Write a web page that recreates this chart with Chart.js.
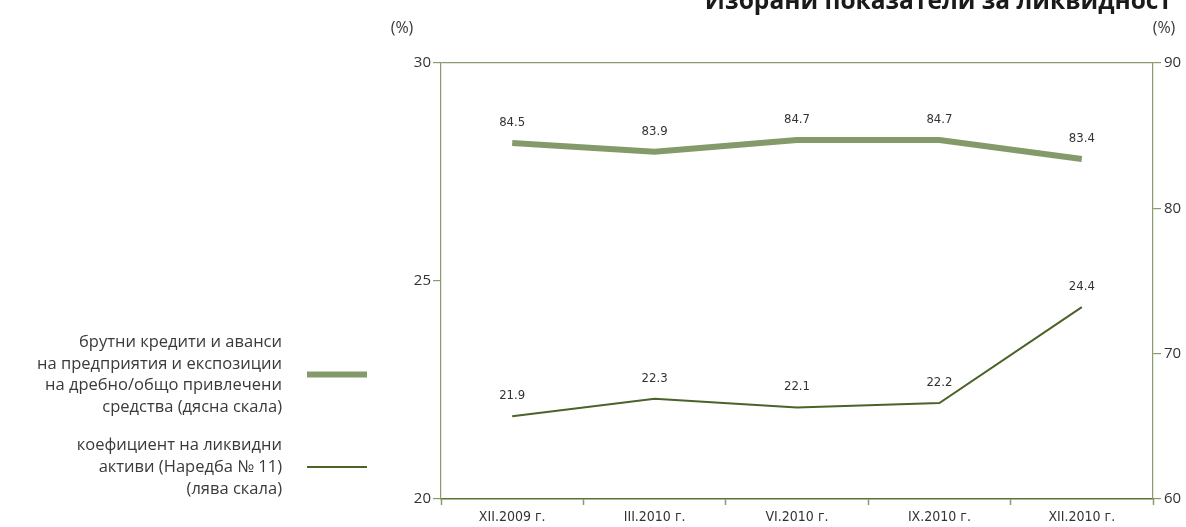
<!DOCTYPE html>
<html>
<head>
<meta charset="utf-8">
<script src="https://cdn.jsdelivr.net/npm/chart.js@4.4.0/dist/chart.umd.min.js"></script>
<style>
  html, body { margin: 0; padding: 0; background: #fff; }
  #wrap { width: 1186px; height: 527px; position: relative; }
</style>
</head>
<body>
<div id="wrap"><canvas id="liqChart" width="1186" height="527"></canvas></div>
<script>
// data
const categories = ['XII.2009 г.', 'III.2010 г.', 'VI.2010 г.', 'IX.2010 г.', 'XII.2010 г.'];
const loansToDeposits = [84.5, 83.9, 84.7, 84.7, 83.4];   // right scale
const liquidAssetsRatio = [21.9, 22.3, 22.1, 22.2, 24.4]; // left scale
const leftTicks = [20, 25, 30];
const rightTicks = [60, 70, 80, 90];

const titleText = 'Избрани показатели за ликвидност';
const legendItems = [
  { lines: ['брутни кредити и аванси', 'на предприятия и експозиции', 'на дребно/общо привлечени', 'средства (дясна скала)'], color: '#849a6b', width: 6 },
  { lines: ['коефициент на ликвидни', 'активи (Наредба № 11)', '(лява скала)'], color: '#4b6229', width: 2 }
];

const condensed = '"Liberation Sans Narrow", "DejaVu Sans Condensed", "Roboto", sans-serif';
const humanist = '"Open Sans", "Noto Sans", sans-serif';

// draws title, unit labels, legend and point values
const extrasPlugin = {
  id: 'extras',
  afterDraw(chart) {
    const ctx = chart.ctx;
    ctx.save();

    // title (cut at top like the reference)
    ctx.fillStyle = '#1a1a1a';
    ctx.font = 'bold 24.5px ' + humanist;
    ctx.textAlign = 'right';
    ctx.textBaseline = 'alphabetic';
    ctx.fillText(titleText, 1172, 9);

    // (%) units
    ctx.font = '16px ' + humanist;
    ctx.fillStyle = '#3a3a3a';
    ctx.textAlign = 'center';
    ctx.fillText('(%)', 402, 33);
    ctx.fillText('(%)', 1164, 33);

    // legend
    ctx.font = '16.5px ' + humanist;
    ctx.textAlign = 'right';
    let y = 347;
    legendItems.forEach((item, i) => {
      const startY = y;
      item.lines.forEach(line => {
        ctx.fillStyle = '#3a3a3a';
        ctx.fillText(line, 282, y);
        y += 21.6;
      });
      const midY = startY + (item.lines.length - 1) * 21.6 / 2 - 5;
      ctx.strokeStyle = item.color;
      ctx.lineWidth = item.width;
      ctx.beginPath();
      ctx.moveTo(307, midY);
      ctx.lineTo(367, midY);
      ctx.stroke();
      y += 17;
    });

    // values above points
    ctx.font = '13px ' + condensed;
    ctx.fillStyle = '#333';
    ctx.textAlign = 'center';
    chart.data.datasets.forEach((ds, di) => {
      const meta = chart.getDatasetMeta(di);
      meta.data.forEach((pt, i) => {
        ctx.fillText(ds.data[i].toFixed(1), pt.x, pt.y - 17);
      });
    });
    ctx.restore();
  }
};

new Chart(document.getElementById('liqChart'), {
  type: 'line',
  data: {
    labels: categories,
    datasets: [
      {
        label: 'брутни кредити и аванси',
        data: loansToDeposits,
        yAxisID: 'yRight',
        borderColor: '#849a6b',
        borderWidth: 6,
        pointRadius: 0,
        tension: 0,
        fill: false
      },
      {
        label: 'коефициент на ликвидни активи',
        data: liquidAssetsRatio,
        yAxisID: 'yLeft',
        borderColor: '#4b6229',
        borderWidth: 2,
        pointRadius: 0,
        tension: 0,
        fill: false
      }
    ]
  },
  options: {
    responsive: false,
    animation: false,
    layout: { padding: { left: 380, right: 0, top: 63, bottom: 0 } },
    plugins: {
      legend: { display: false },
      tooltip: { enabled: false }
    },
    scales: {
      x: {
        offset: true,
        grid: {
          offset: true,
          drawOnChartArea: false,
          tickLength: 6,
          tickColor: '#8a9c6e',
          tickWidth: 1.5
        },
        border: { color: '#5a7233', width: 1.5 },
        ticks: {
          color: '#333',
          font: { family: condensed, size: 14 },
          padding: 4,
          maxRotation: 0
        },
        afterFit(scale) { scale.height = 28; }
      },
      yLeft: {
        position: 'left',
        min: 20,
        max: 30,
        afterBuildTicks(scale) { scale.ticks = leftTicks.map(v => ({ value: v })); },
        grid: {
          color: ctx => ctx.tick && ctx.tick.value === 30 ? '#8a9c6e' : 'transparent',
          tickColor: '#8a9c6e',
          tickLength: 8,
          lineWidth: 1.2
        },
        border: { color: '#8a9c6e', width: 1.2 },
        ticks: {
          color: '#333',
          font: { family: humanist, size: 15 },
          padding: 2
        },
        afterFit(scale) { scale.width = 61; }
      },
      yRight: {
        position: 'right',
        min: 60,
        max: 90,
        afterBuildTicks(scale) { scale.ticks = rightTicks.map(v => ({ value: v })); },
        grid: {
          drawOnChartArea: false,
          tickColor: '#8a9c6e',
          tickLength: 8,
          lineWidth: 1.2
        },
        border: { color: '#8a9c6e', width: 1.2 },
        ticks: {
          color: '#333',
          font: { family: humanist, size: 15 },
          padding: 3
        },
        afterFit(scale) { scale.width = 33; }
      }
    }
  },
  plugins: [extrasPlugin]
});
</script>
</body>
</html>
